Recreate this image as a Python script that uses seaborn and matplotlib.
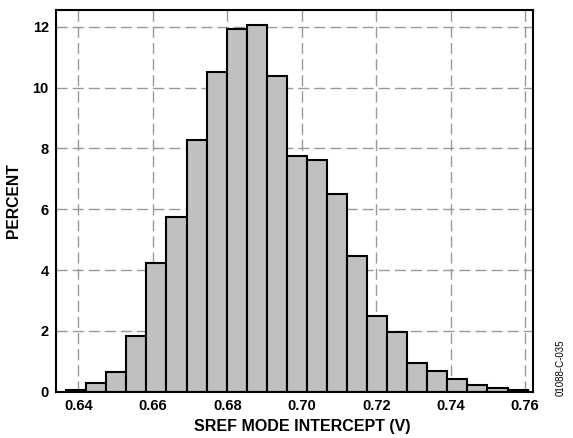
import numpy as np
import pandas as pd
import matplotlib
matplotlib.use("Agg")
import matplotlib.pyplot as plt
import seaborn as sns

# bin edges (V) and percent per bin
bin_start = 0.6367
bin_width = 0.00539
percent = [0.05, 0.28, 0.66, 1.84, 4.22, 5.75, 8.27, 10.51, 11.93, 12.07, 10.38, 7.76,
           7.61, 6.50, 4.47, 2.50, 1.97, 0.95, 0.68, 0.42, 0.22, 0.11, 0.05]
xticks = [0.64, 0.66, 0.68, 0.70, 0.72, 0.74, 0.76]
yticks = [0, 2, 4, 6, 8, 10, 12]

edges = [bin_start + bin_width * i for i in range(len(percent) + 1)]
df = pd.DataFrame({"v": [(a + b) / 2 for a, b in zip(edges[:-1], edges[1:])], "pct": percent})

sns.set_style("white")
plt.rcParams['font.family'] = ['Liberation Sans', 'DejaVu Sans']
plt.rcParams['text.color'] = 'black'
plt.rcParams['axes.labelcolor'] = 'black'
plt.rcParams['xtick.color'] = 'black'
plt.rcParams['ytick.color'] = 'black'

fig = plt.figure(figsize=(5.73, 4.38), dpi=100)
ax = fig.add_axes([0.0972, 0.1057, 0.8335, 0.8715])
sns.histplot(data=df, x="v", weights="pct", bins=edges, ax=ax, color="#c0c0c0",
             edgecolor="black", linewidth=1.5, alpha=1, zorder=2)

ax.set_xlim(0.6339, 0.7622)
ax.set_ylim(0, 12.55)
ax.set_xticks(xticks)
ax.set_xticklabels([f"{t:.2f}" for t in xticks], fontweight="bold", fontsize=10.5)
ax.set_yticks(yticks)
ax.set_yticklabels([str(t) for t in yticks], fontweight="bold", fontsize=10.5)
ax.tick_params(length=0, pad=5)
ax.grid(True, color="#999999", linestyle=(0, (8, 3.6)), linewidth=1.0, zorder=1)
ax.set_axisbelow(True)
for s in ax.spines.values():
    s.set_color("black")
    s.set_linewidth(1.5)
ax.set_xlabel("SREF MODE INTERCEPT (V)", fontweight="bold", fontsize=11.5)
ax.xaxis.set_label_coords(0.516, -0.072)
ax.set_ylabel("PERCENT", fontweight="bold", fontsize=11.3, labelpad=8)
fig.text(0.979, 0.16, "01088-C-035", rotation=90, fontsize=7, ha="center", va="center")

plt.savefig("out.png", dpi=100)
